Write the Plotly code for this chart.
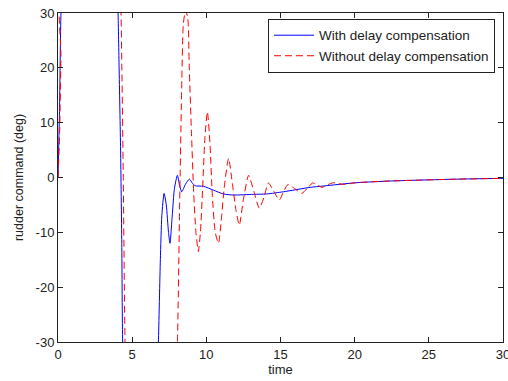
import plotly.graph_objects as go

# With delay compensation (blue, solid)
t_with = [0, 0.1, 0.2, 0.3, 4.0, 4.05, 4.12, 4.22, 4.3, 4.36, 4.45, 6.7, 6.77, 6.9, 7.0,
          7.15, 7.3, 7.45, 7.55, 7.7, 7.85, 8.05, 8.2, 8.34, 8.6, 8.86, 9.05, 9.24, 9.8,
          10.47, 11.15, 11.82, 13.17, 14.07, 15.2, 17.0, 17.9, 20.1, 22.4, 24.6, 26.9, 30]
y_with = [0, 12, 30, 35, 35, 30, 20, 5, -12, -30, -35, -35, -30, -15, -7,
          -2.9, -5, -10, -12, -7, -2, 0.4, -1.5, -2.6, -1.2, -0.3, -1.0, -1.5, -1.6,
          -2.3, -3.0, -3.2, -3.07, -3.0, -2.6, -1.8, -1.55, -0.95, -0.64, -0.46, -0.3, -0.15]

# Without delay compensation (red, dashed)
t_without = [0, 0.1, 0.2, 0.3, 4.2, 4.25, 4.4, 4.52, 4.6, 7.95, 8.05, 8.2, 8.35, 8.45, 8.6,
             8.75, 8.85, 9.0, 9.15, 9.3, 9.46, 9.6, 9.75, 9.9, 10.07, 10.25, 10.4, 10.6,
             10.82, 11.0, 11.2, 11.5, 11.75, 12.0, 12.22, 12.5, 12.85, 13.2, 13.57, 13.9,
             14.18, 14.55, 14.92, 15.2, 15.5, 15.95, 16.43, 16.8, 17.17, 17.5, 17.8, 18.2,
             18.56, 19.2, 20.1, 22.4, 24.6, 26.9, 30]
y_without = [0, 7, 22, 35, 35, 30, 0, -30, -35, -35, -30, -5, 18, 28, 30.5,
             29, 20, 8, -3, -10, -13.5, -10, -2, 7, 12, 6, -3, -10,
             -12, -8, -2, 3.5, -1, -6, -8.7, -4, 0.4, -2.5, -5.6, -3.5,
             -1.0, -2.5, -4.1, -2.6, -1.3, -2.0, -2.9, -2.0, -1.0, -1.4, -1.8, -1.3,
             -0.95, -1.25, -0.95, -0.64, -0.46, -0.3, -0.15]

x_ticks = [0, 5, 10, 15, 20, 25, 30]
x_ticktext = ["0", "5", "10", "15", "20", "25", "30"]
y_ticks = [-30, -20, -10, 0, 10, 20, 30]
y_ticktext = ["-30", "-20", "-10", "0", "10", "20", "30"]

FONT = "Liberation Sans, Arial, sans-serif"
TXT = "#222222"

fig = go.Figure()
fig.add_trace(go.Scatter(x=t_with, y=y_with, mode="lines", name="With delay compensation",
                         line=dict(color="#0000ff", width=1, shape="spline", smoothing=0.6)))
fig.add_trace(go.Scatter(x=t_without, y=y_without, mode="lines", name="Without delay compensation",
                         line=dict(color="#ff0000", width=1, dash="7px,4px", shape="spline", smoothing=0.6)))

axis_common = dict(showline=True, linecolor=TXT, linewidth=1, mirror="allticks",
                   ticks="inside", ticklen=5, tickcolor=TXT, showgrid=False,
                   zeroline=False, ticklabeloverflow="allow", automargin=False,
                   tickfont=dict(family=FONT, size=13, color=TXT))

fig.update_layout(
    width=508, height=381,
    margin=dict(l=58, r=5, t=13, b=39, autoexpand=False),
    paper_bgcolor="white", plot_bgcolor="white",
    font=dict(family=FONT, size=13, color=TXT),
    showlegend=True,
    legend=dict(x=0.982, y=0.982, xanchor="right", yanchor="top",
                bordercolor=TXT, borderwidth=1, bgcolor="white",
                font=dict(family=FONT, size=13.5, color=TXT),
                tracegroupgap=0, itemwidth=40),
)
fig.update_xaxes(range=[0, 30], tickvals=x_ticks, ticktext=x_ticktext,
                 title=dict(text="time", standoff=1, font=dict(family=FONT, size=13)),
                 **axis_common)
fig.update_yaxes(range=[-30, 30], tickvals=y_ticks, ticktext=y_ticktext,
                 title=dict(text="rudder command (deg)", standoff=9, font=dict(family=FONT, size=12.5)),
                 **axis_common)

fig.write_html("out.html")
